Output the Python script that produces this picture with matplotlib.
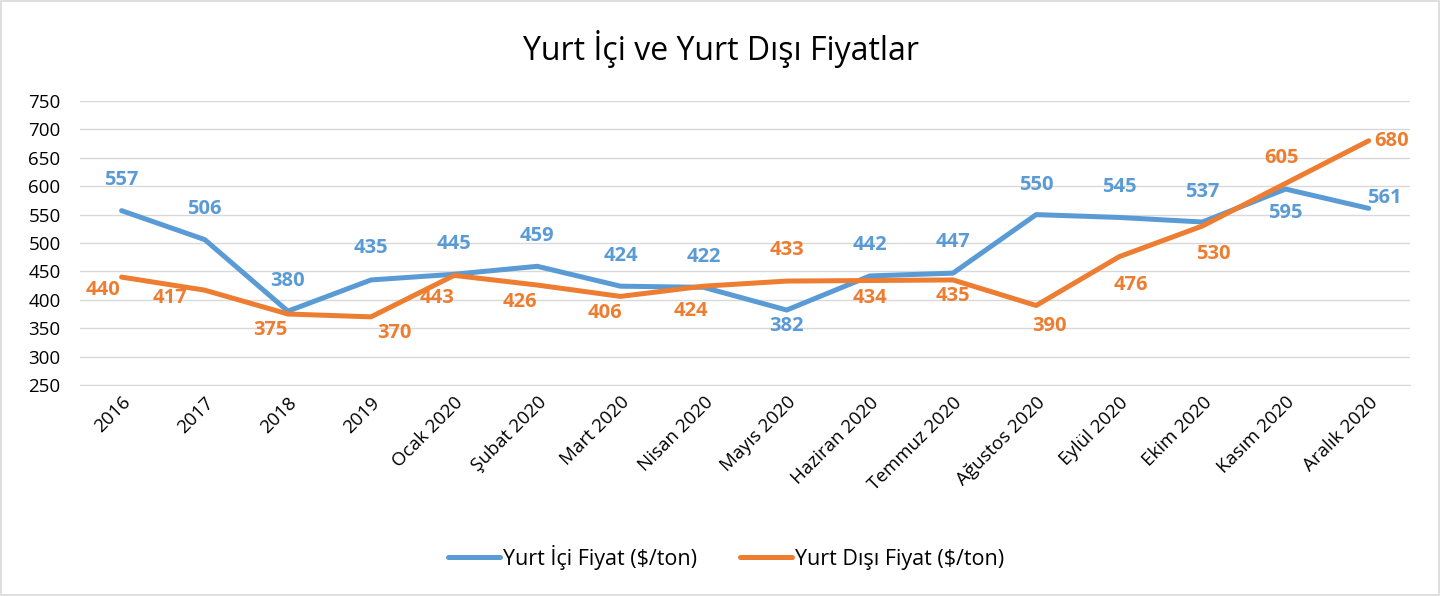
import matplotlib
matplotlib.use("Agg")
import matplotlib.pyplot as plt
from matplotlib.patches import Rectangle

categories = ["2016", "2017", "2018", "2019", "Ocak 2020", "Şubat 2020", "Mart 2020",
              "Nisan 2020", "Mayıs 2020", "Haziran 2020", "Temmuz 2020", "Ağustos 2020",
              "Eylül 2020", "Ekim 2020", "Kasım 2020", "Aralık 2020"]
domestic = [557, 506, 380, 435, 445, 459, 424, 422, 382, 442, 447, 550, 545, 537, 595, 561]
foreign = [440, 417, 375, 370, 443, 426, 406, 424, 433, 434, 435, 390, 476, 530, 605, 680]
yticks = [250, 300, 350, 400, 450, 500, 550, 600, 650, 700, 750]

# label offsets in pixels (dx, dy)
dom_off = [(0, 31), (0, 31), (0, 30), (0, 32), (0, 30), (0, 30), (0, 30), (0, 30),
           (0, -16), (0, 31), (0, 31), (0, 30), (0, 30), (0, 30), (0, -24), (16, 10)]
for_off = [(-19, -13), (-35, -8), (-18, -16), (23, -16), (-17, -23), (-17, -17), (-16, -17),
           (-13, -25), (0, 31), (0, -17), (0, -16), (13, -21), (12, -28), (11, -28), (-4, 25), (23, 0)]

BLUE = "#5B9BD5"
ORANGE = "#ED7D31"
FONT = ["Open Sans", "DejaVu Sans"]
plt.rcParams["font.family"] = FONT

fig = plt.figure(figsize=(14.42, 5.96), dpi=100)
fig.patches.append(Rectangle((0.001, 0.002), 0.997, 0.996, transform=fig.transFigure,
                             fill=False, edgecolor="#D9D9D9", linewidth=1.2))
ax = fig.add_axes([0.0555, 0.354, 0.9225, 0.4765])

x = list(range(len(categories)))
ax.plot(x, domestic, color=BLUE, linewidth=3.6, label="Yurt İçi Fiyat ($/ton)", solid_capstyle="round")
ax.plot(x, foreign, color=ORANGE, linewidth=3.6, label="Yurt Dışı Fiyat ($/ton)", solid_capstyle="round")

for i, v in enumerate(domestic):
    ax.annotate(str(v), (i, v), xytext=dom_off[i], textcoords="offset pixels",
                ha="center", va="center", color=BLUE, fontsize=14.5, fontweight="bold")
for i, v in enumerate(foreign):
    ax.annotate(str(v), (i, v), xytext=for_off[i], textcoords="offset pixels",
                ha="center", va="center", color=ORANGE, fontsize=14.5, fontweight="bold")

ax.set_xlim(-0.5, len(categories) - 0.5)
ax.set_ylim(250, 750)
ax.set_yticks(yticks)
ax.set_yticklabels([str(t) for t in yticks], fontsize=13.5)
ax.set_xticks(x)
ax.set_xticklabels(categories, rotation=45, ha="right", rotation_mode="anchor", fontsize=13.5)
ax.grid(axis="y", color="#D9D9D9", linewidth=1)
ax.set_axisbelow(True)
for s in ["top", "right", "left"]:
    ax.spines[s].set_visible(False)
ax.spines["bottom"].set_color("#D9D9D9")
ax.tick_params(axis="both", length=0, colors="#000000")
ax.tick_params(axis="y", pad=14)
ax.tick_params(axis="x", pad=6)

fig.text(0.5, 0.918, "Yurt İçi ve Yurt Dışı Fiyatlar", ha="center", va="center", fontsize=23)
fig.legend(loc="center", bbox_to_anchor=(0.5035, 0.065), ncol=2, frameon=False,
           fontsize=15.5, handlelength=2.4, columnspacing=2.0, handletextpad=0.15)

fig.savefig("out.png", dpi=100)
